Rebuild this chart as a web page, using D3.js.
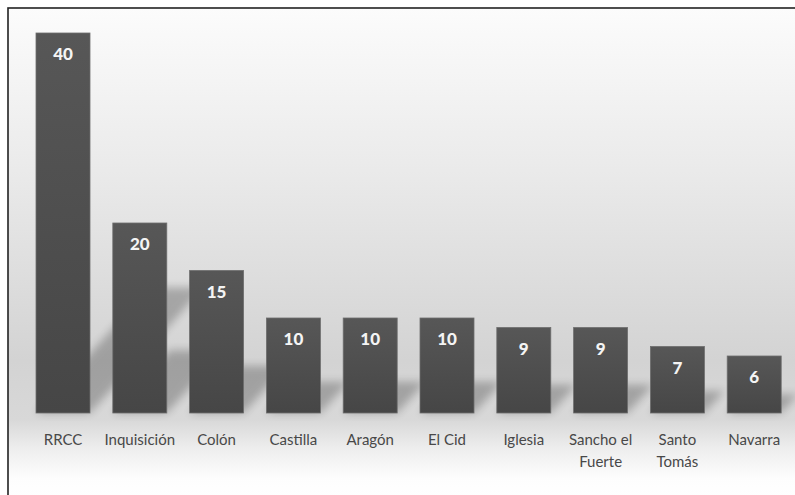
<!DOCTYPE html>
<html><head><meta charset="utf-8">
<script src="https://cdn.jsdelivr.net/npm/d3@7"></script>
<style>body{margin:0;background:#fff}svg{display:block}</style>
</head><body><svg id="c" width="795" height="495"></svg>
<script>
const categories = ["RRCC","Inquisición","Colón","Castilla","Aragón","El Cid","Iglesia","Sancho el Fuerte","Santo Tomás","Navarra"];
const labelLines = [["RRCC"],["Inquisición"],["Colón"],["Castilla"],["Aragón"],["El Cid"],["Iglesia"],["Sancho el","Fuerte"],["Santo","Tomás"],["Navarra"]];
const values = [40,20,15,10,10,10,9,9,7,6];

const svg = d3.select("#c");
const defs = svg.append("defs");
const bg = defs.append("linearGradient").attr("id","bg").attr("x1",0).attr("y1",0).attr("x2",0).attr("y2",1);
[[0,"#fcfcfc"],[0.35,"#e9e9e9"],[0.72,"#d3d3d3"],[0.84,"#d8d8d8"],[0.9,"#eeeeee"],[0.96,"#fdfdfd"],[1,"#ffffff"]]
  .forEach(([o,c])=>bg.append("stop").attr("offset",o).attr("stop-color",c));
const bar = defs.append("linearGradient").attr("id","bar").attr("x1",0).attr("y1",0).attr("x2",0).attr("y2",1);
bar.append("stop").attr("offset",0).attr("stop-color","#575757");
bar.append("stop").attr("offset",1).attr("stop-color","#464646");
const sh = defs.append("filter").attr("id","blur").attr("x","-50%").attr("y","-50%").attr("width","200%").attr("height","200%");
sh.append("feGaussianBlur").attr("stdDeviation",4);

svg.append("rect").attr("x",8).attr("y",8).attr("width",800).attr("height",490)
  .attr("fill","url(#bg)").attr("stroke","#222").attr("stroke-width",1.6);

const x = d3.scaleBand().domain(categories).range([24.6,792.6]).paddingInner(0.297).paddingOuter(0.1485);
const y = d3.scaleLinear().domain([0,40]).range([413,33]);

const g = svg.append("g");
// floor shadows
g.selectAll("path.sh").data(values).join("path").attr("class","sh")
  .attr("d",(v,i)=>{
    const x0 = x(categories[i]), x1 = x0 + x.bandwidth(), b = y(0), h = y(0)-y(v);
    const dx = h*0.3, dy = h*0.33;
    return `M${x0},${b}L${x1},${b}L${x1+dx},${b-dy}L${x0+dx},${b-dy}Z`;
  })
  .attr("fill","#000").attr("opacity",0.24).attr("filter","url(#blur)");

g.selectAll("rect.bar").data(values).join("rect").attr("class","bar")
  .attr("x",(v,i)=>x(categories[i])).attr("y",v=>y(v))
  .attr("width",x.bandwidth()).attr("height",v=>y(0)-y(v))
  .attr("fill","url(#bar)").attr("stroke","#6e6e6e").attr("stroke-width",0.8);

g.selectAll("text.val").data(values).join("text").attr("class","val")
  .attr("x",(v,i)=>x(categories[i])+x.bandwidth()/2).attr("y",v=>y(v)+27)
  .attr("text-anchor","middle").attr("fill","#f4f4f4")
  .attr("font-family","Lato, 'Open Sans', sans-serif").attr("font-weight","900").attr("font-size",17)
  .text(v=>v);

const lab = g.selectAll("text.cat").data(labelLines).join("text").attr("class","cat")
  .attr("x",(d,i)=>x(categories[i])+x.bandwidth()/2).attr("y",445)
  .attr("text-anchor","middle").attr("fill","#484848")
  .attr("font-family","Lato, 'Open Sans', sans-serif").attr("font-size",15);
lab.selectAll("tspan").data(d=>d).join("tspan")
  .attr("x",function(){return d3.select(this.parentNode).attr("x");})
  .attr("dy",(d,j)=>j===0?0:22).text(d=>d);
</script></body></html>
